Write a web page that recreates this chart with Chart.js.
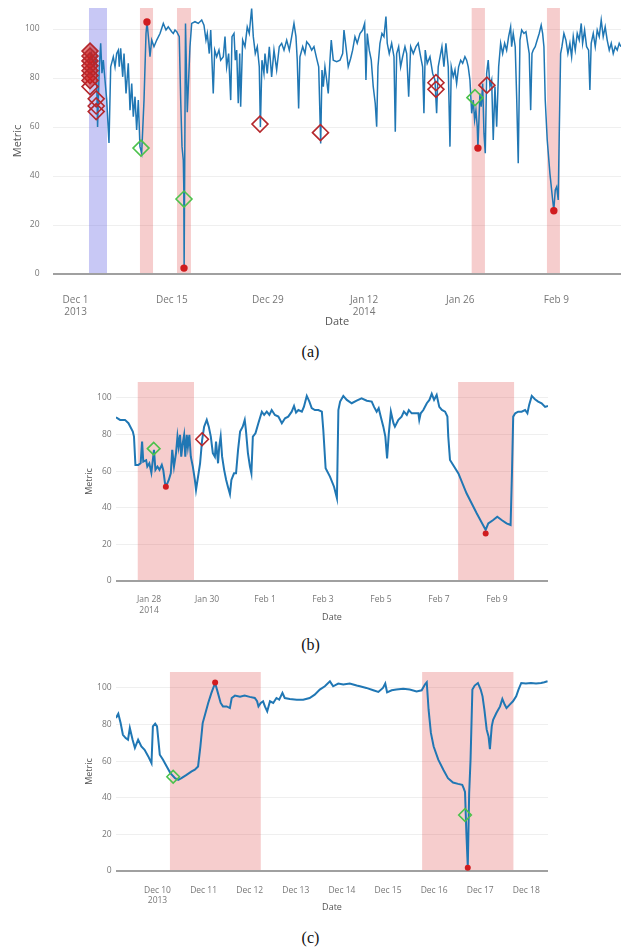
<!DOCTYPE html>
<html>
<head>
<meta charset="utf-8">
<script src="https://cdn.jsdelivr.net/npm/chart.js@4.4.1/dist/chart.umd.min.js"></script>
<style>
  body { margin: 0; background: #fff; width: 621px; height: 949px; position: relative; overflow: hidden; }
  .box { position: absolute; left: 0; width: 621px; }
  .cap { position: absolute; left: 0; width: 621px; text-align: center; font-family: "Liberation Serif", "DejaVu Serif", serif; font-size: 16px; line-height: 16px; color: #111; }
</style>
</head>
<body>
<div class="box" style="top:0;height:335px"><canvas id="chartA"></canvas></div>
<div class="cap" style="top:344px">(a)</div>
<div class="box" style="top:370px;height:262px"><canvas id="chartB"></canvas></div>
<div class="cap" style="top:637px">(b)</div>
<div class="box" style="top:660px;height:262px"><canvas id="chartC"></canvas></div>
<div class="cap" style="top:930px">(c)</div>

<script>
// x values are days since Dec 1 2013 (0 = Dec 1, 31 = Jan 1, 62 = Feb 1)
var yTicks = [0, 20, 40, 60, 80, 100];

// ---- (a) full range ----
var aDays = [1.95,2.30,2.70,3.00,3.20,3.45,3.65,3.84,4.03,4.28,4.53,4.86,5.11,5.49,5.74,5.98,6.22,6.36,6.56,6.86,
  7.05,7.34,7.67,7.92,8.17,8.40,8.65,8.89,9.13,9.37,9.62,9.96,10.25,10.40,10.64,10.83,11.08,11.41,11.81,12.29,
  12.77,13.16,13.49,13.99,14.22,14.47,14.72,15.09,15.30,15.49,15.68,15.75,15.80,16.00,16.26,16.65,16.90,17.38,17.86,18.36,
  18.69,18.98,19.17,19.46,19.67,19.85,20.04,20.25,20.54,20.87,21.12,21.50,21.75,21.99,22.28,22.58,22.77,23.06,23.25,23.45,
  23.68,23.89,24.03,24.32,24.66,24.99,25.28,25.63,25.87,26.16,26.45,26.74,26.90,27.13,27.42,27.57,27.90,28.20,28.54,28.88,
  29.27,29.65,30.00,30.34,30.73,31.11,31.46,31.79,32.08,32.27,32.47,32.66,33.06,33.39,33.64,34.02,34.37,34.70,35.09,35.39,
  35.68,35.87,36.06,36.30,36.55,36.78,37.03,37.22,37.51,38.01,38.49,38.88,39.07,39.36,39.69,40.04,40.33,40.67,41.00,41.40,
  41.79,42.08,42.27,42.46,42.75,43.04,43.33,43.62,43.83,44.02,44.31,44.60,44.89,45.18,45.37,45.66,46.01,46.35,46.54,46.74,
  47.03,47.32,47.61,47.95,48.20,48.49,48.78,49.16,49.55,49.88,50.23,50.52,50.71,50.90,51.19,51.59,51.98,52.31,52.56,52.79,
  53.33,53.62,53.91,54.25,54.50,54.69,54.98,55.23,55.47,55.76,56.06,56.35,56.68,56.93,57.16,57.41,57.66,57.89,58.09,58.28,
  58.47,58.57,58.86,59.05,59.26,59.45,59.64,59.84,60.07,60.32,60.57,60.80,61.05,61.30,61.59,61.88,62.17,62.46,62.75,63.04,
  63.33,63.48,63.71,64.00,64.21,64.44,64.69,64.94,65.27,65.56,65.81,66.04,66.25,66.44,66.62,66.91,67.20,67.49,67.78,67.99,
  68.18,68.37,68.66,69.05,69.45,69.62,69.83,70.03,70.26,70.41,70.61,70.80,71.09,71.38,71.67,71.96,72.21,72.45,72.74,73.03,
  73.32,73.61,73.81,74.10,74.39,74.68,74.87,75.06,75.36,75.65,75.94,76.23,76.52,76.81,77.10,77.39,77.69,77.98,78.27,78.56,
  78.85,79.14,79.39];
var aVals = [86,90,85,89,60,84.6,94.2,82,87.3,79.2,71,53.5,84.6,88.7,84.6,90,91.4,84.6,92.1,80.5,
  90,73.7,86,66.9,77.8,64.2,72.4,58.8,71,52,49.3,71,98.2,102.9,95.5,88.7,95.5,92.8,95.5,98.2,
  102.3,99.6,100.9,98.9,98.2,99.6,98.9,96.9,71,52,46.5,35.6,2.4,102.3,66,92.8,102.3,103,102.3,103.7,
  101.6,95.5,98.2,90,99.6,87.3,73.7,91.4,88.7,91.4,87.3,88.7,96.9,84.6,90,71,96.9,98.2,87.3,91.4,
  69.7,90,68.3,95.5,92.8,100.9,98.2,108.4,96.9,90,92.8,84.6,60,87.3,81.9,90,81.9,92.8,80.5,91.4,
  83.3,92.8,94.2,91.4,95.5,91.4,96.9,102.3,96.9,87.3,67.6,88.7,92.8,90,94.8,93.5,91.4,92.8,88,84.6,
  53.3,83.3,76.5,84.6,79.2,73.7,87.3,95.5,87.3,86.7,87.3,90,99.6,92.8,84.6,88,91.4,96.9,94.2,98.2,
  99.6,102.3,79.2,98.2,91.4,87.3,76.5,69.7,60.1,84.6,94.2,98.2,96.9,105.1,94.2,90,94.2,88.7,58.1,90,
  92.8,84.6,88.7,92.8,90,72.4,92.8,90,92.8,94.2,88.7,84.6,65.6,91.4,86,88.7,81.9,79.2,65.6,84.6,
  92.8,84.6,94.2,84.6,52,84.6,80.5,83.3,77.8,84.6,87.3,86,88.7,87.3,84.6,79.2,65.6,71,62.9,66.9,
  60.1,51.4,73.7,68.3,77.8,57.4,49.3,81.9,87.3,76.5,79.2,54.7,76.5,60.1,84.6,94.2,90,94.2,91.4,96.9,
  100.9,92.8,98.2,92.8,72.4,45.2,95.5,99.6,98.2,98.9,94.2,90,66.9,90,91.4,92.8,95.5,98.2,101.6,98.2,
  92.8,71,54.7,41.1,30.2,26,34.3,35.6,30.2,57.4,90,92.8,98.2,95.5,90,94.2,88.7,96.9,91.4,98.2,
  95.5,102.3,94.2,99.6,92.8,91.4,75.1,94.2,98.2,92.8,99.6,96.9,103.7,96.9,100.9,95.5,91.4,94.2,90,92.8,
  91.4,94.2,92.8];
var aClusterDays = [2.1,2.1,2.1,2.1,2.1,2.1,2.1];
var aClusterVals = [91,89,87,85,83,81,79];
var aRedDiamondDays = [2.1,3.0,3.0,3.0,26.84,35.65,52.46,52.46,59.88];
var aRedDiamondVals = [76.5,71.5,68.6,66.3,61.2,57.7,78.1,75.4,77.1];
var aGreenDays = [9.52,15.78,58.14];
var aGreenVals = [51.4,30.6,72];
var aDotDays = [10.39,15.78,58.57,69.62];
var aDotVals = [102.9,2.4,51.4,25.8];
var aBlueBands = [[1.95,4.57]];
var aRedBands = [[9.37,11.27],[14.76,16.79],[57.66,59.59],[68.62,70.51]];
var aTickDays = [0,14,28,42,56,70];
var aTickLabels = [["Dec 1","2013"],"Dec 15","Dec 29",["Jan 12","2014"],"Jan 26","Feb 9"];

// ---- (b) Jan 27 - Feb 10 ----
var bDays = [56.86,57.00,57.17,57.29,57.44,57.48,57.53,57.63,57.71,57.76,57.80,57.90,57.94,58.01,58.08,58.13,58.17,58.22,58.29,58.36,
  58.44,58.49,58.55,58.61,58.68,58.75,58.80,58.86,58.93,58.98,59.02,59.07,59.11,59.16,59.21,59.25,59.30,59.34,59.39,59.44,
  59.51,59.58,59.62,59.69,59.76,59.83,59.90,59.99,60.06,60.13,60.20,60.27,60.31,60.38,60.42,60.47,60.52,60.59,60.66,60.72,
  60.79,60.84,60.93,61.00,61.07,61.14,61.23,61.30,61.34,61.41,61.48,61.53,61.58,61.67,61.77,61.89,61.97,62.06,62.15,62.23,
  62.34,62.46,62.58,62.69,62.80,62.92,63.00,63.07,63.15,63.27,63.34,63.44,63.53,63.61,63.72,63.84,63.96,64.01,64.09,64.24,
  64.38,64.48,64.53,64.59,64.70,64.82,64.99,65.16,65.33,65.51,65.68,65.76,65.85,65.92,65.99,66.08,66.15,66.21,66.27,66.34,
  66.43,66.48,66.60,66.71,66.79,66.89,66.96,67.06,67.17,67.29,67.32,67.37,67.46,67.58,67.67,67.75,67.83,67.92,68.01,68.10,
  68.21,68.29,68.32,68.38,68.67,68.95,69.30,69.61,69.70,69.87,70.01,70.16,70.33,70.47,70.52,70.56,70.63,70.73,70.85,70.97,
  71.05,71.11,71.20,71.31,71.42,71.54,71.66,71.76];
var bVals = [89.4,88,88,86.2,81.6,78.9,63.4,63.4,64.3,76.1,65.2,66,62.5,64.3,59.2,66,71.6,60.7,62.5,60.7,
  63.4,60.7,53.4,52.5,55.2,58.8,71.6,62.5,69.8,78.9,73.4,79.8,67.9,75.2,79.8,67.9,79.8,73.4,79.8,67.9,
  62.5,55.2,49.7,57,64.3,77,84.3,88,84.3,78.9,69.8,67.9,76.1,64.3,73.4,78.9,67.9,60.7,55.2,51.5,
  47.5,55.2,58.8,58.8,71.6,81.6,84.3,88,82.5,69.8,62.5,58.8,78.9,80.7,86.2,92.5,90.7,92.5,90.7,93.4,
  90.7,89.8,86.2,88.9,89.8,92.5,95.6,92,93.4,92.5,95.1,101.1,98,94.4,93.4,93.4,92.5,82.5,61.6,57,
  51.5,45.2,93.4,98,101.1,98.9,97.1,98.5,99.8,98.5,98,95.1,92.5,94.4,89.8,84.3,78.9,67,80.7,92.5,
  86.2,84.3,88,89.8,92.5,90.7,93.4,91.6,91.6,91.6,88,91.6,93.4,97.1,98.9,102.2,98.9,101.6,95.1,93.4,
  92.5,89.8,78.9,66.1,58.8,47.9,37,27.9,31.5,33.3,35.1,33.3,31.5,30.6,60.7,89.8,91.6,92.5,92.5,93.4,
  91.6,96.2,101.1,99.3,98,97.1,95.1,95.6];
var bRedDiamondDays = [59.83];
var bRedDiamondVals = [77.4];
var bGreenDays = [58.16];
var bGreenVals = [72.3];
var bDotDays = [58.58,69.61];
var bDotVals = [51.5,26];
var bRedBands = [[57.61,59.55],[68.66,70.59]];
var bTickDays = [58,60,62,64,66,68,70];
var bTickLabels = [["Jan 28","2014"],"Jan 30","Feb 1","Feb 3","Feb 5","Feb 7","Feb 9"];

// ---- (c) Dec 9 - Dec 18 ----
var cDays = [8.10,8.15,8.20,8.25,8.31,8.36,8.40,8.46,8.51,8.58,8.65,8.72,8.80,8.87,8.90,8.95,8.99,9.05,9.12,9.20,
  9.28,9.38,9.45,9.52,9.63,9.74,9.81,9.88,9.93,9.98,10.03,10.10,10.17,10.25,10.31,10.37,10.42,10.50,10.57,10.61,
  10.68,10.79,10.89,11.00,11.11,11.16,11.19,11.24,11.29,11.33,11.38,11.44,11.51,11.58,11.64,11.71,11.76,11.87,12.02,12.16,
  12.30,12.41,12.52,12.63,12.74,12.81,12.92,13.03,13.17,13.32,13.39,13.53,13.68,13.79,13.89,13.94,13.98,14.08,14.18,14.33,
  14.47,14.62,14.73,14.80,14.84,14.88,14.93,14.99,15.09,15.20,15.30,15.41,15.52,15.61,15.64,15.67,15.70,15.73,15.76,15.79,
  15.83,15.88,15.95,16.01,16.05,16.09,16.14,16.18,16.21,16.25,16.28,16.35,16.43,16.48,16.53,16.57,16.64,16.71,16.78,16.83,
  16.89,16.99,17.10,17.21,17.32,17.39,17.46];
var cVals = [83.6,85.9,80.8,74.4,72.6,71.7,78.1,71.7,67.2,71.7,68.1,66.2,62.6,58.9,79,80.5,79,63.5,60.8,57.1,
  53.5,50.7,49.8,50.7,52.5,54.4,55.3,57.1,68,80.8,85.4,91.8,97.3,102.7,97.3,91.8,89.9,89.9,89,94.5,
  95.8,95.2,95.8,95.1,94.5,92.7,89.9,91.8,92.7,89.9,87.2,92.7,91.8,94.5,93.6,97.3,94.5,94,93.6,93.6,
  94.5,96.3,99.1,100.9,103.6,100.9,102.4,101.9,102.4,101.3,100.9,100,98.7,97.8,100,102.4,97.6,98.7,99.1,99.5,
  99.1,98.1,98.7,101.9,103.1,88.1,75.4,68,60.8,55.3,50.7,48.3,47.6,47.1,45.3,43.2,20.6,2.4,42.5,60.8,
  99.1,101.3,102.7,99.1,95.4,88.1,77.2,73.5,66.6,79,82.6,86.3,89.9,94,90.9,89,90.9,92.7,95.4,99.1,
  102.7,102.4,102.7,102.4,102.7,103.1,103.6];
var cGreenDays = [9.34,15.67];
var cGreenVals = [51.5,30.6];
var cDotDays = [10.25,15.73];
var cDotVals = [103,1.8];
var cRedBands = [[9.27,11.24],[14.74,16.72]];
var cTickDays = [9,10,11,12,13,14,15,16,17];
var cTickLabels = [["Dec 10","2013"],"Dec 11","Dec 12","Dec 13","Dec 14","Dec 15","Dec 16","Dec 17","Dec 18"];

function pts(xs, ys) {
  return xs.map(function (x, i) { return { x: x, y: ys[i] }; });
}

var RED_BAND = 'rgba(222,70,70,0.27)';
var BLUE_BAND = 'rgba(110,110,230,0.38)';

// shaded anomaly windows, drawn behind the series
var bandPlugin = {
  id: 'bands',
  beforeDatasetsDraw: function (chart, args, opts) {
    var ctx = chart.ctx, area = chart.chartArea;
    var x = chart.scales.x, y = chart.scales.y;
    var y0 = y.getPixelForValue(0) - 1;
    ctx.save();
    (opts.list || []).forEach(function (b) {
      var x1 = x.getPixelForValue(b.from), x2 = x.getPixelForValue(b.to);
      ctx.fillStyle = b.color;
      ctx.fillRect(x1, area.top, x2 - x1, y0 - area.top);
    });
    ctx.restore();
  }
};

function bandList(red, blue) {
  var out = [];
  (blue || []).forEach(function (b) { out.push({ from: b[0], to: b[1], color: BLUE_BAND }); });
  red.forEach(function (b) { out.push({ from: b[0], to: b[1], color: RED_BAND }); });
  return out;
}

function makeChart(id, o) {
  var xFont = { family: 'Open Sans', size: o.tickSize };
  var yFont = { family: 'Open Sans', size: o.yTickSize };
  var titleFont = { family: 'Open Sans', size: o.titleSize };
  return new Chart(document.getElementById(id), {
    type: 'scatter',
    data: { datasets: o.datasets },
    options: {
      responsive: true,
      maintainAspectRatio: false,
      animation: false,
      events: [],
      layout: { autoPadding: false, padding: { top: o.top, right: o.right, left: 0, bottom: 0 } },
      plugins: {
        legend: { display: false },
        tooltip: { enabled: false },
        bands: { list: o.bands }
      },
      scales: {
        x: {
          type: 'linear',
          min: o.xMin,
          max: o.xMax,
          grid: { display: false, drawTicks: false },
          border: { display: false },
          afterBuildTicks: function (s) { s.ticks = o.tickDays.map(function (v) { return { value: v }; }); },
          afterFit: function (s) { s.height = o.xHeight; s.paddingLeft = 0; s.paddingRight = 0; },
          ticks: {
            autoSkip: false, maxRotation: 0, padding: o.xPad, color: '#777', font: xFont,
            callback: function (v) { return o.tickLabels[o.tickDays.indexOf(v)]; }
          },
          title: { display: true, text: 'Date', color: '#555', font: titleFont, padding: { top: 0, bottom: o.datePad } }
        },
        y: {
          min: 0,
          max: o.yMax,
          afterBuildTicks: function (s) { s.ticks = yTicks.map(function (v) { return { value: v }; }); },
          afterFit: function (s) { s.width = o.yWidth; s.paddingTop = 0; s.paddingBottom = 0; },
          grid: {
            drawTicks: false,
            color: function (c) { return c.tick && c.tick.value === 0 ? '#a0a0a0' : '#efefef'; },
            lineWidth: function (c) { return c.tick && c.tick.value === 0 ? 2 : 1; }
          },
          border: { display: false },
          ticks: { padding: o.yPad, color: '#777', font: yFont },
          title: { display: true, text: 'Metric', color: '#555', font: titleFont, padding: { top: o.metricPad, bottom: 0 } }
        }
      }
    },
    plugins: [bandPlugin]
  });
}

function lineSet(xs, ys, w) {
  return { data: pts(xs, ys), showLine: true, borderColor: '#2077b4', borderWidth: w, pointRadius: 0, order: 5 };
}
function diamondSet(xs, ys, r, color, fill) {
  return { data: pts(xs, ys), showLine: false, pointStyle: 'rectRot', pointRadius: r, pointBorderWidth: 1.6,
           pointBorderColor: color, pointBackgroundColor: fill || 'rgba(0,0,0,0)', order: 1 };
}
function dotSet(xs, ys, r) {
  return { data: pts(xs, ys), showLine: false, pointStyle: 'circle', pointRadius: r, pointBorderWidth: 0,
           pointBackgroundColor: '#d01c1f', order: 0 };
}

var GREEN = '#4cc24c';
var DARKRED = '#b5282c';

makeChart('chartA', {
  top: 8, right: 0, xHeight: 61, yWidth: 53, xMin: -3.29, xMax: 79.4, yMax: 108.6,
  tickSize: 10, yTickSize: 8.5, titleSize: 11, xPad: 20, yPad: 13.5, datePad: 6.4, metricPad: 11.4,
  tickDays: aTickDays, tickLabels: aTickLabels,
  bands: bandList(aRedBands, aBlueBands),
  datasets: [
    lineSet(aDays, aVals, 1.5),
    diamondSet(aClusterDays, aClusterVals, 8, DARKRED, 'rgba(205,30,30,0.55)'),
    diamondSet(aRedDiamondDays, aRedDiamondVals, 8, DARKRED),
    diamondSet(aGreenDays, aGreenVals, 8, GREEN),
    dotSet(aDotDays, aDotVals, 3.7)
  ]
});

makeChart('chartB', {
  top: 12, right: 73, xHeight: 51, yWidth: 116, xMin: 56.86, xMax: 71.76, yMax: 108.7,
  tickSize: 8.5, yTickSize: 8.5, titleSize: 9, xPad: 13.9, yPad: 4.3, datePad: 9.3, metricPad: 83.9,
  tickDays: bTickDays, tickLabels: bTickLabels,
  bands: bandList(bRedBands),
  datasets: [
    lineSet(bDays, bVals, 2),
    diamondSet(bRedDiamondDays, bRedDiamondVals, 6.3, DARKRED),
    diamondSet(bGreenDays, bGreenVals, 6.3, GREEN),
    dotSet(bDotDays, bDotVals, 3)
  ]
});

makeChart('chartC', {
  top: 12, right: 73, xHeight: 51, yWidth: 116, xMin: 8.10, xMax: 17.47, yMax: 108.7,
  tickSize: 8.5, yTickSize: 8.5, titleSize: 9, xPad: 14.6, yPad: 4.3, datePad: 8.9, metricPad: 83.9,
  tickDays: cTickDays, tickLabels: cTickLabels,
  bands: bandList(cRedBands),
  datasets: [
    lineSet(cDays, cVals, 2),
    diamondSet(cGreenDays, cGreenVals, 6.3, GREEN),
    dotSet(cDotDays, cDotVals, 3)
  ]
});
</script>
</body>
</html>
